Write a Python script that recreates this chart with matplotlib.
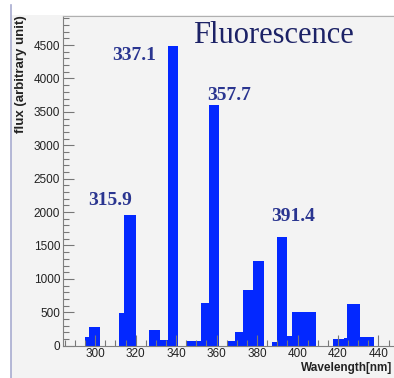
import matplotlib
matplotlib.use("Agg")
import matplotlib.pyplot as plt
from matplotlib.patches import Rectangle
from matplotlib.ticker import MultipleLocator

# histogram bins: left edge, right edge (nm), flux
bin_lo = [295.0, 297.0, 312.0, 314.3, 326.8, 332.1, 335.9, 344.9, 352.2, 356.4,
          365.0, 369.1, 373.2, 378.2, 387.2, 389.7, 395.0, 397.4, 403.3,
          417.7, 423.0, 424.6, 430.9]
bin_hi = [297.0, 302.4, 314.3, 320.2, 332.1, 335.9, 341.1, 352.2, 356.4, 361.4,
          369.1, 373.2, 378.2, 383.6, 389.7, 395.0, 397.4, 403.3, 409.0,
          423.0, 424.6, 430.9, 437.8]
flux = [135, 275, 485, 1950, 235, 85, 4490, 75, 640, 3600,
        70, 210, 830, 1265, 50, 1620, 145, 510, 510,
        95, 110, 625, 135]

peak_labels = ["315.9", "337.1", "357.7", "391.4"]
peak_x = [296.6, 308.2, 355.4, 387.2]
peak_y = [2106, 4277, 3678, 1871]

W, H = 394, 378
fig = plt.figure(figsize=(W / 100, H / 100), dpi=100)
fig.patch.set_facecolor("white")
fig.patches.append(Rectangle((11 / W, 0), 1, 1 - 15 / H, transform=fig.transFigure,
                             facecolor="#f3f3f3", edgecolor="none", zorder=-10))
fig.add_artist(plt.Line2D([11 / W, 11 / W], [0, 1 - 5 / H], transform=fig.transFigure,
                          color="#a8acd0", lw=1.2))

ax = fig.add_axes([63 / W, 1 - 345.7 / H, (398.7 - 63) / W, (345.7 - 16) / H])
ax.set_facecolor("#f3f3f3")

widths = [h - l for l, h in zip(bin_lo, bin_hi)]
ax.bar(bin_lo, flux, width=widths, align="edge", color="#0328ff", edgecolor="none")

ax.set_xlim(284.1, 450)
ax.set_ylim(0, 4935)

ax.xaxis.set_major_locator(MultipleLocator(20))
ax.xaxis.set_minor_locator(MultipleLocator(5))
ax.yaxis.set_major_locator(MultipleLocator(500))
ax.yaxis.set_minor_locator(MultipleLocator(100))
ax.tick_params(which="both", direction="in", color="#777777", width=0.8,
               top=False, right=False, labelsize=8.5, labelcolor="#222222", pad=2)
ax.tick_params(which="major", length=8)
ax.tick_params(which="minor", length=4)
for lab in ax.get_xticklabels() + ax.get_yticklabels():
    lab.set_family("Liberation Sans")

for s in ["left", "bottom"]:
    ax.spines[s].set_color("#808080")
ax.spines["top"].set_color("#b0b0b0")
ax.spines["right"].set_visible(False)

fig.text(21 / W, 1 - 15 / H, "flux (arbitrary unit)", rotation=90, ha="center", va="top",
         fontsize=9.5, fontweight="bold", family="Liberation Sans", color="#222222")
fig.text(392 / W, 1 - 368 / H, "Wavelength[nm]", ha="right", va="center",
         fontsize=8.5, fontweight="bold", family="Liberation Sans", color="#222222")

ax.text(348.4, 4531, "Fluorescence", family="Liberation Serif", fontsize=22,
        color="#1c2266", ha="left", va="baseline")
for txt, x, y in zip(peak_labels, peak_x, peak_y):
    ax.text(x, y, txt, family="Liberation Serif", fontweight="bold", fontsize=14,
            color="#2a3590", ha="left", va="baseline")

fig.savefig("out.png", dpi=100, facecolor=fig.get_facecolor())
